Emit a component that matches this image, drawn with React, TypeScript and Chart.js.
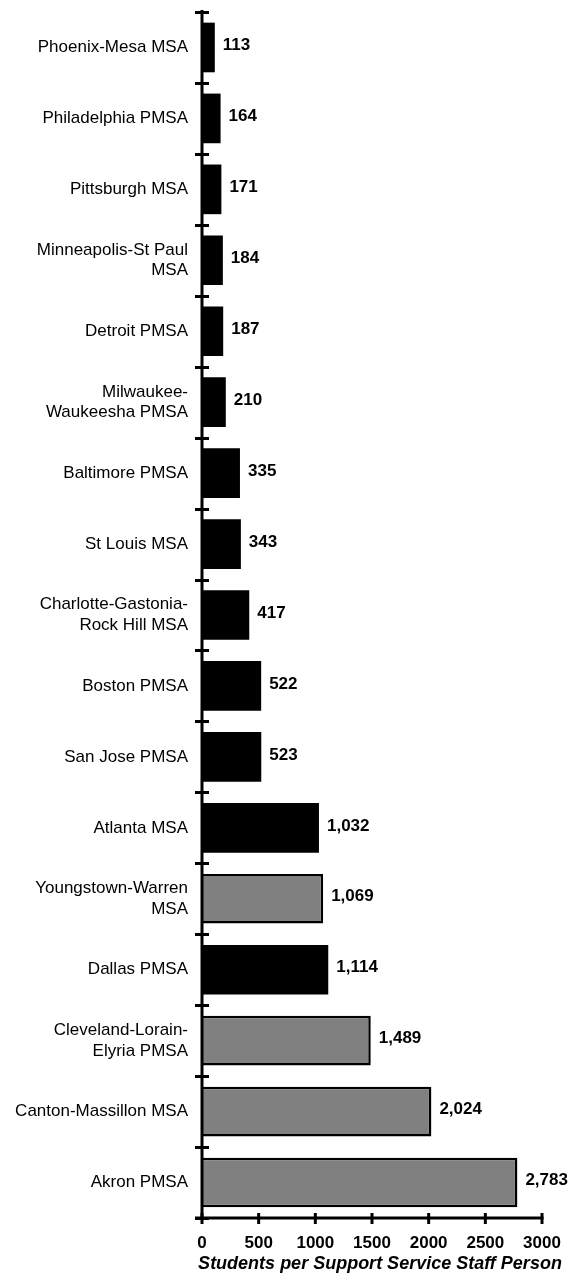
import React, { useEffect, useRef } from "react";
import { Chart, registerables } from "chart.js";

Chart.register(...registerables);

const categories: (string | string[])[] = [
  "Phoenix-Mesa MSA",
  "Philadelphia PMSA",
  "Pittsburgh MSA",
  ["Minneapolis-St Paul", "MSA"],
  "Detroit PMSA",
  ["Milwaukee-", "Waukeesha PMSA"],
  "Baltimore PMSA",
  "St Louis MSA",
  ["Charlotte-Gastonia-", "Rock Hill MSA"],
  "Boston PMSA",
  "San Jose PMSA",
  "Atlanta MSA",
  ["Youngstown-Warren", "MSA"],
  "Dallas PMSA",
  ["Cleveland-Lorain-", "Elyria PMSA"],
  "Canton-Massillon MSA",
  "Akron PMSA",
];

const values: number[] = [113, 164, 171, 184, 187, 210, 335, 343, 417, 522, 523, 1032, 1069, 1114, 1489, 2024, 2783];

const ohioFlags: boolean[] = [false, false, false, false, false, false, false, false, false, false, false, false, true, false, true, true, true];

const xTicks: number[] = [0, 500, 1000, 1500, 2000, 2500, 3000];

const axisTitle = "Students per Support Service Staff Person";

const BLACK = "#000000";
const GRAY = "#808080";

const decorPlugin = {
  id: "decor",
  afterDraw(chart: any) {
    const ctx = chart.ctx;
    const area = chart.chartArea;
    const ys = chart.scales.y;
    const xs = chart.scales.x;
    ctx.save();
    ctx.strokeStyle = "#000";
    ctx.lineWidth = 3;
    // y axis line
    ctx.beginPath();
    ctx.moveTo(area.left, area.top - 2);
    ctx.lineTo(area.left, area.bottom);
    ctx.stroke();
    // x axis line
    ctx.beginPath();
    ctx.moveTo(area.left - 7, area.bottom);
    ctx.lineTo(xs.getPixelForValue(3000) + 1.5, area.bottom);
    ctx.stroke();
    // category boundary ticks (crossing)
    for (let i = 0; i <= categories.length; i++) {
      const y = Math.round(ys.getPixelForValue(i - 0.5)) + 0.5;
      ctx.beginPath();
      ctx.moveTo(area.left - 7, y);
      ctx.lineTo(area.left + 7, y);
      ctx.stroke();
    }
    // x ticks (crossing)
    xTicks.forEach((v) => {
      const x = xs.getPixelForValue(v);
      ctx.beginPath();
      ctx.moveTo(x, area.bottom - 5);
      ctx.lineTo(x, area.bottom + 6);
      ctx.stroke();
    });
    // value labels
    const meta = chart.getDatasetMeta(0);
    ctx.fillStyle = "#000";
    ctx.font = "bold 17px 'Liberation Sans', Arial, sans-serif";
    ctx.textAlign = "left";
    ctx.textBaseline = "middle";
    meta.data.forEach((bar: any, i: number) => {
      ctx.fillText(values[i].toLocaleString("en-US"), bar.x + 8, bar.y - 2);
    });
    // axis title
    ctx.font = "italic bold 18px 'Liberation Sans', Arial, sans-serif";
    ctx.textAlign = "center";
    ctx.textBaseline = "middle";
    ctx.fillText(axisTitle, 380, area.bottom + 46);
    ctx.restore();
  },
};

export default function App() {
  const canvasRef = useRef<HTMLCanvasElement | null>(null);

  useEffect(() => {
    document.body.style.margin = "0";
    const canvas = canvasRef.current;
    if (!canvas) return;
    const chart = new Chart(canvas, {
      type: "bar",
      data: {
        labels: categories,
        datasets: [
          {
            data: values,
            backgroundColor: ohioFlags.map((o) => (o ? GRAY : BLACK)),
            borderColor: BLACK,
            borderWidth: ohioFlags.map((o) => (o ? 2.5 : 0)),
            barPercentage: 0.7,
            categoryPercentage: 1,
          },
        ],
      },
      options: {
        indexAxis: "y",
        responsive: false,
        animation: false,
        devicePixelRatio: 1,
        layout: { padding: { top: 12, right: 30, left: 0, bottom: 0 } },
        plugins: {
          legend: { display: false },
          tooltip: { enabled: false },
        },
        scales: {
          x: {
            type: "linear",
            min: 0,
            max: 3000,
            afterBuildTicks: (scale: any) => {
              scale.ticks = xTicks.map((v) => ({ value: v }));
            },
            afterFit: (scale: any) => {
              scale.height = 65;
              scale.paddingLeft = 0;
              scale.paddingRight = 0;
            },
            grid: { display: false, drawTicks: false },
            border: { display: false },
            ticks: {
              padding: 15,
              color: "#000",
              font: { family: "'Liberation Sans Narrow', 'Liberation Sans', sans-serif", size: 17, weight: "bold" },
              callback: (v: any) => String(v),
            },
          },
          y: {
            type: "category",
            afterFit: (scale: any) => {
              scale.width = 202;
              scale.paddingTop = 0;
              scale.paddingBottom = 0;
            },
            grid: { display: false, drawTicks: false, offset: true },
            border: { display: false },
            ticks: {
              padding: 14,
              color: "#000",
              autoSkip: false,
              font: { family: "'Liberation Sans', Arial, sans-serif", size: 17, lineHeight: 1.2 },
            },
          },
        },
      },
      plugins: [decorPlugin],
    });
    return () => chart.destroy();
  }, []);

  return <canvas ref={canvasRef} width={572} height={1283} style={{ display: "block" }} />;
}
